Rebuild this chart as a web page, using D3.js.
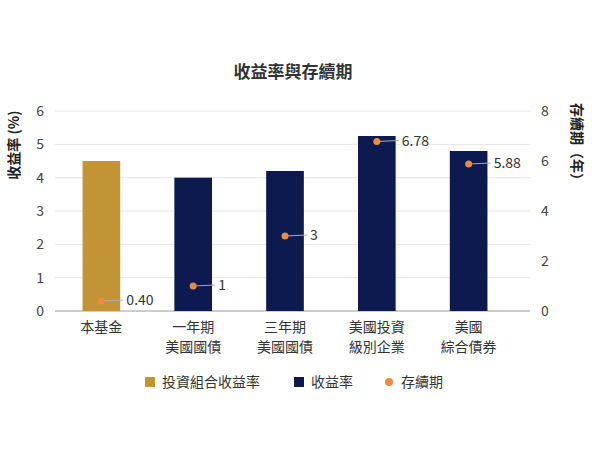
<!DOCTYPE html><html><head><meta charset="utf-8"><script src="https://cdn.jsdelivr.net/npm/d3@7"></script>
<style>body{margin:0;background:#fff}text{font-family:"Noto Sans CJK TC","Noto Sans",sans-serif}</style></head><body><svg id="c" width="592" height="450"></svg><script>
const categories=[["本基金"],["一年期","美國國債"],["三年期","美國國債"],["美國投資","級別企業"],["美國","綜合債券"]];
const yields=[4.5,4.0,4.2,5.25,4.8];
const durations=[0.40,1,3,6.78,5.88];
const durLabels=["0.40","1","3","6.78","5.88"];
const leftTicks=[0,1,2,3,4,5,6], rightTicks=[0,2,4,6,8];
const svg=d3.select("#c");
const x=d3.scaleBand().domain(d3.range(5)).range([55,515]).paddingInner(0.59).paddingOuter(0.3);
const y=d3.scaleLinear().domain([0,6]).range([311,111]);
const y2=d3.scaleLinear().domain([0,8]).range([311,111]);
svg.append("text").attr("x",293).attr("y",78).attr("text-anchor","middle").attr("font-size",17).attr("font-weight","bold").attr("fill","#333").text("收益率與存續期");
svg.append("g").selectAll("line").data(leftTicks).join("line").attr("x1",55).attr("x2",530).attr("y1",d=>y(d)).attr("y2",d=>y(d)).attr("stroke",d=>d?"#e6e6e6":"#999");
svg.append("g").selectAll("text").data(leftTicks).join("text").attr("x",44).attr("y",d=>y(d)+5).attr("text-anchor","end").attr("font-size",14).attr("fill","#444").text(d=>d);
svg.append("g").selectAll("text").data(rightTicks).join("text").attr("x",541).attr("y",d=>y2(d)+5).attr("text-anchor","start").attr("font-size",14).attr("fill","#444").text(d=>d);
svg.append("text").attr("transform","translate(19,145) rotate(-90)").attr("text-anchor","middle").attr("font-size",14).attr("font-weight","bold").attr("fill","#222").text("收益率 (%)");
svg.append("text").attr("transform","translate(572,145) rotate(90)").attr("text-anchor","middle").attr("font-size",14).attr("font-weight","bold").attr("fill","#222").text("存續期（年）");
svg.append("g").selectAll("rect").data(yields).join("rect").attr("x",(d,i)=>x(i)).attr("width",x.bandwidth()).attr("y",d=>y(d)).attr("height",d=>y(0)-y(d)).attr("fill",(d,i)=>i?"#0c1a4f":"#c29436");
const cx=i=>x(i)+x.bandwidth()/2;
const g=svg.append("g");
durations.forEach((d,i)=>{
 g.append("line").attr("x1",cx(i)).attr("x2",cx(i)+22).attr("y1",y2(d)).attr("y2",y2(d)-1).attr("stroke","#aaa");
 g.append("circle").attr("cx",cx(i)).attr("cy",y2(d)).attr("r",3.5).attr("fill","#f08a3c");
 g.append("text").attr("x",cx(i)+25).attr("y",y2(d)+4).attr("font-size",14).attr("fill","#333").text(durLabels[i]);
});
categories.forEach((c,i)=>c.forEach((t,j)=>svg.append("text").attr("x",cx(i)).attr("y",332+j*20).attr("text-anchor","middle").attr("font-size",14).attr("fill","#333").text(t)));
const legend=[["投資組合收益率","#c29436","rect",145],["收益率","#0c1a4f","rect",294],["存續期","#f08a3c","circle",384]];
legend.forEach(([t,c,s,lx])=>{
 if(s==="rect")svg.append("rect").attr("x",lx).attr("y",377).attr("width",10).attr("height",10).attr("fill",c);
 else svg.append("circle").attr("cx",lx+5).attr("cy",382).attr("r",4).attr("fill",c);
 svg.append("text").attr("x",lx+17).attr("y",387).attr("font-size",14).attr("fill","#333").text(t);
});
</script></body></html>
